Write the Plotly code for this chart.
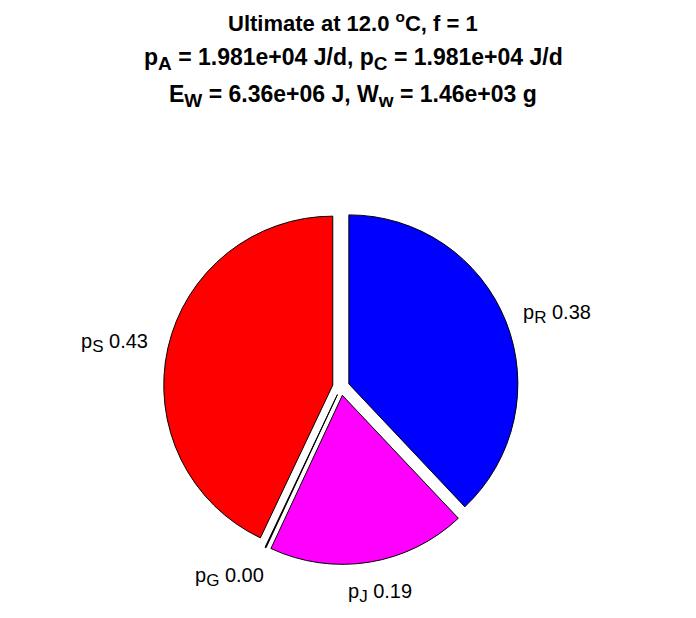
import math
import plotly.graph_objects as go

# Data (clockwise from 12 o'clock)
categories = ["R", "J", "G", "S"]
values = [0.38, 0.19, 0.001, 0.43]
colors = ["#0000FF", "#FF00FF", "#000000", "#FF0000"]

title_lines = [
    "Ultimate at 12.0 <sup>o</sup>C, f = 1",
    "p<sub>A</sub> = 1.981e+04 J/d, p<sub>C</sub> = 1.981e+04 J/d",
    "E<sub>W</sub> = 6.36e+06 J, W<sub>w</sub> = 1.46e+03 g",
]
title_sizes = [22, 23, 23]

W, H = 696, 618
cx, cy, r, pull = 341, 386, 169, 0.05      # target pie centre / radius in px
dom_cx, dom_cy = cx - 8, cy - 7             # plotly domain centre that lands there
half = r * (1 + pull)
FONT = "Liberation Sans, Arial"

fig = go.Figure(go.Pie(
    labels=categories,
    values=values,
    textinfo="none",
    sort=False,
    direction="clockwise",
    rotation=0,
    pull=[pull] * len(values),
    marker=dict(colors=colors, line=dict(color="black", width=1)),
    showlegend=False,
    hoverinfo="none",
    domain=dict(x=[(dom_cx - half) / W, (dom_cx + half) / W],
                y=[(H - dom_cy - half) / H, (H - dom_cy + half) / H]),
))

# slice labels placed along each slice's bisector, just outside the pie
total = sum(values)
cum = 0.0
lab_r = 1.1 * r + pull * r
for c, v in zip(categories, values):
    mid = (cum + v / 2) / total * 2 * math.pi
    cum += v
    s, co = math.sin(mid), math.cos(mid)
    px = cx + lab_r * s
    py = cy - lab_r * co
    xa = "left" if s > 0.3 else ("right" if s < -0.3 else "center")
    ya = "top" if co < -0.5 else ("bottom" if co > 0.5 else "middle")
    txt = f"p<sub><span style='font-size:17px'>{c}</span></sub> {v:.2f}"
    fig.add_annotation(text=txt, x=px / W, y=1 - py / H, xref="paper", yref="paper",
                       xanchor=xa, yanchor=ya, showarrow=False,
                       xshift=-9 if ya == "middle" else 0, yshift=8,
                       font=dict(family=FONT, size=20, color="black"))

ys = [14, 51, 88]
for line, yy, fs in zip(title_lines, ys, title_sizes):
    line = line.replace("<sub>", f"<sub><span style='font-size:{fs - 4}px'>").replace("</sub>", "</span></sub>")
    fig.add_annotation(text="<b>" + line + "</b>", x=345 / W, y=1 - yy / H,
                       xref="paper", yref="paper", xanchor="center", yanchor="middle",
                       showarrow=False,
                       font=dict(family=FONT, size=fs, color="black"))

fig.update_layout(width=W, height=H, margin=dict(l=0, r=0, t=0, b=0),
                  paper_bgcolor="white", plot_bgcolor="white")
fig.write_html("out.html")
